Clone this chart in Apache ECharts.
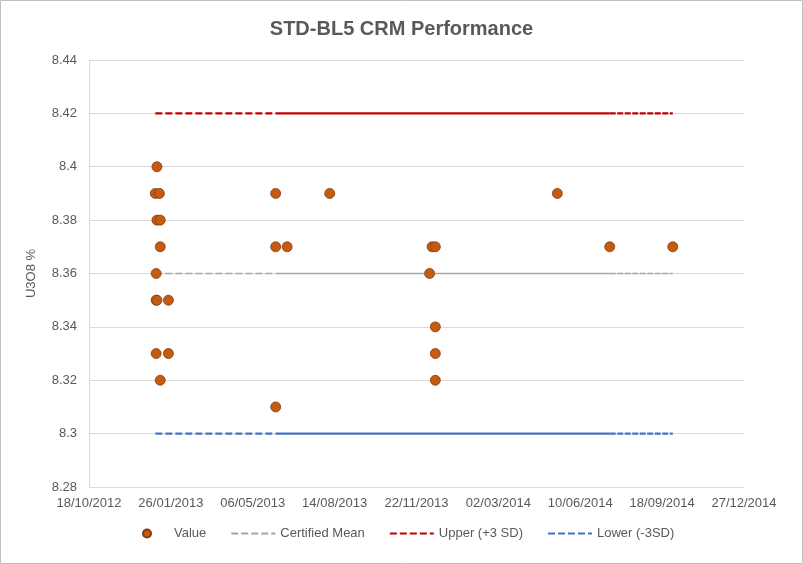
<!DOCTYPE html>
<html>
<head>
<meta charset="utf-8">
<script src="https://cdn.jsdelivr.net/npm/echarts@6/dist/echarts.min.js"></script>
<style>
html,body{margin:0;padding:0;background:#fff;}
#chart{width:803px;height:564px;}
</style>
</head>
<body>
<div id="chart"></div>
<script>
// Sample dates and assay values (U3O8 %)
const sampleDates = [
  '2013-01-09','2013-01-07','2013-01-12','2013-01-09','2013-01-13','2013-01-13',
  '2013-01-08','2013-01-08','2013-01-09','2013-01-23','2013-01-08','2013-01-23','2013-01-13',
  '2013-06-03','2013-06-03','2013-06-17','2013-06-03','2013-08-08',
  '2013-12-08','2013-12-11','2013-12-15','2013-12-15','2013-12-15','2013-12-15',
  '2014-05-13','2014-07-16','2014-10-01'
];
const sampleValues = [
  8.40,8.39,8.39,8.38,8.38,8.37,
  8.36,8.35,8.35,8.35,8.33,8.33,8.32,
  8.39,8.37,8.37,8.31,8.39,
  8.36,8.37,8.37,8.34,8.33,8.32,
  8.39,8.37,8.37
];
// Control line break dates (segments: dashed, solid, fine-dashed)
const lineDates = ['2013-01-07','2013-06-03','2014-07-16','2014-10-01'];
const certifiedMean = 8.36;
const upperLimit = 8.42;
const lowerLimit = 8.30;
const xTickStart = '2012-10-18';
const xTickEnd = '2014-12-27';
const yTicks = [8.28,8.30,8.32,8.34,8.36,8.38,8.40,8.42,8.44];

function toSerial(s){
  const p = s.split('-').map(Number);
  return Date.UTC(p[0],p[1]-1,p[2])/86400000 + 25569;
}
function fromSerial(n){
  const d = new Date((n-25569)*86400000);
  const dd = String(d.getUTCDate()).padStart(2,'0');
  const mm = String(d.getUTCMonth()+1).padStart(2,'0');
  return dd+'/'+mm+'/'+d.getUTCFullYear();
}

const scatterData = sampleDates.map((d,i)=>[toSerial(d), sampleValues[i]]);
const seg = (a,b,v)=>[[toSerial(lineDates[a]),v],[toSerial(lineDates[b]),v]];

const font = 'Liberation Sans, Arial, sans-serif';
const txt = '#595959';

function lineSeries(name, v, color, width){
  return [
    {name:name,type:'line',data:seg(0,1,v),showSymbol:false,symbol:'none',
     lineStyle:{color:color,width:width,type:[7,3]},itemStyle:{color:color},z:2,silent:true},
    {name:name,type:'line',data:seg(1,2,v),showSymbol:false,symbol:'none',
     lineStyle:{color:color,width:width,type:'solid'},itemStyle:{color:color},z:2,silent:true},
    {name:name,type:'line',data:seg(2,3,v),showSymbol:false,symbol:'none',
     lineStyle:{color:color,width:width,type:[6,1.5]},itemStyle:{color:color},z:2,silent:true}
  ];
}

const chart = echarts.init(document.getElementById('chart'));
chart.setOption({
  animation:false,
  backgroundColor:'#fff',
  graphic:[{type:'rect',shape:{x:0.5,y:0.5,width:802,height:563},style:{fill:'none',stroke:'#BFBFBF',lineWidth:1},silent:true,z:-1}],
  title:{text:'STD-BL5 CRM Performance',left:'center',top:14,
    textStyle:{fontFamily:font,fontSize:20,fontWeight:'bold',color:txt}},
  grid:{left:89,right:59,top:60,bottom:77,containLabel:false},
  legend:{bottom:19,left:137,itemWidth:44,itemHeight:8,itemGap:24,
    textStyle:{fontFamily:font,fontSize:13,color:txt},
    data:[
      {name:'Value',icon:'circle'},
      {name:'Certified Mean',itemStyle:{opacity:0}},
      {name:'Upper (+3 SD)',itemStyle:{opacity:0}},
      {name:'Lower (-3SD)',itemStyle:{opacity:0}}
    ]},
  xAxis:{type:'value',min:toSerial(xTickStart),max:toSerial(xTickEnd),interval:100,
    axisLine:{show:false},axisTick:{show:false},splitLine:{show:false},
    axisLabel:{fontFamily:font,fontSize:13,color:txt,margin:10,formatter:v=>fromSerial(v)}},
  yAxis:{type:'value',min:yTicks[0],max:yTicks[yTicks.length-1],interval:0.02,
    name:'U3O8 %',nameLocation:'middle',nameGap:51,
    nameTextStyle:{fontFamily:font,fontSize:13,color:txt},
    axisLine:{show:true,lineStyle:{color:'#D9D9D9',width:1}},axisTick:{show:false},
    splitLine:{lineStyle:{color:'#D9D9D9',width:1}},
    axisLabel:{fontFamily:font,fontSize:13,color:txt,margin:12,
      formatter:v=>String(parseFloat(v.toFixed(2)))}},
  series:[
    ...lineSeries('Certified Mean',certifiedMean,'#A5A5A5',1.6),
    ...lineSeries('Upper (+3 SD)',upperLimit,'#C00000',2.2),
    ...lineSeries('Lower (-3SD)',lowerLimit,'#4472C4',2.2),
    {name:'Value',type:'scatter',data:scatterData,symbol:'circle',symbolSize:10,z:5,
     itemStyle:{color:'#C55A11',borderColor:'#843C0C',borderWidth:0.8,opacity:1}}
  ]
});
</script>
</body>
</html>
